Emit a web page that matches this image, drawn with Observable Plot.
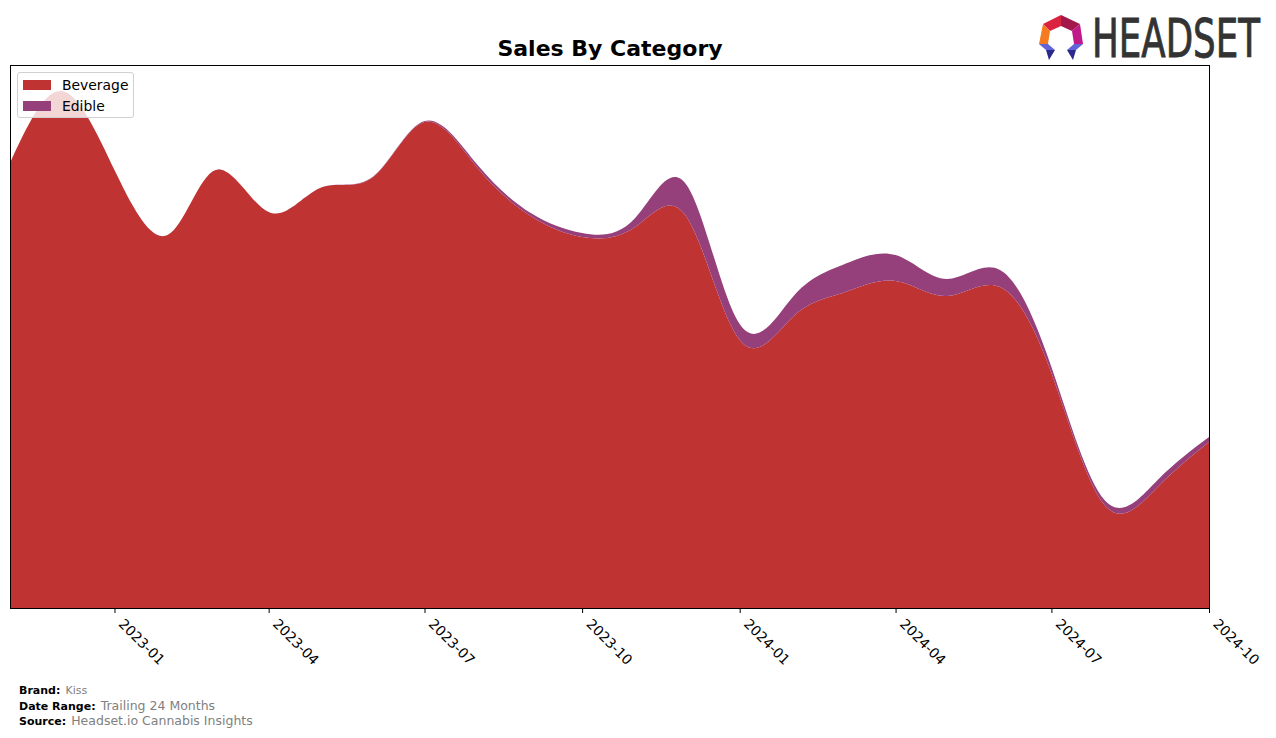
<!DOCTYPE html>
<html>
<head>
<meta charset="utf-8">
<script src="https://cdn.jsdelivr.net/npm/d3@7"></script>
<script src="https://cdn.jsdelivr.net/npm/@observablehq/plot@0.6"></script>
<style>
  html, body { margin: 0; padding: 0; background: #fff; }
  #wrap { position: relative; width: 1276px; height: 738px; overflow: hidden; font-family: "DejaVu Sans", sans-serif; }
  #chart { position: absolute; left: 0; top: 0; }
  #title { position: absolute; left: 0; width: 1220px; top: 38px; line-height: 22px; text-align: center; font-weight: bold; font-size: 22px; color: #000; }
  #legend { position: absolute; left: 17px; top: 72px; width: 115px; height: 44px; border: 1px solid #d0d0d0; border-radius: 3px; background: rgba(255,255,255,0.8); font-size: 13.9px; }
  .li { position: absolute; left: 5px; height: 16px; line-height: 16px; white-space: nowrap; }
  .sw { display: inline-block; width: 28px; height: 10px; vertical-align: middle; margin-right: 11px; position: relative; top: -1px; }
  .foot { position: absolute; left: 19px; white-space: nowrap; color: #000; }
  .foot b { font-size: 11px; }
  .foot span { color: #808080; }
  #logo { position: absolute; left: 1030px; top: 8px; overflow: visible; }
</style>
</head>
<body>
<div id="wrap">
  <div id="chart"></div>
  <div id="title">Sales By Category</div>
  <div id="legend"></div>
  <div class="foot" style="top:679px;"><b>Brand:</b> <span style="font-size:11px;">Kiss</span></div>
  <div class="foot" style="top:695px;"><b>Date Range:</b> <span style="font-size:12.5px;">Trailing 24 Months</span></div>
  <div class="foot" style="top:710px;"><b>Source:</b> <span style="font-size:12.5px;">Headset.io Cannabis Insights</span></div>
  <svg id="logo" width="240" height="60" viewBox="1030 8 240 60">
    <polygon points="1043,24 1061,15 1061,26 1050,31" fill="#d9233f"/>
    <polygon points="1061,15 1080,24 1072,31 1061,26" fill="#a3174b"/>
    <polygon points="1080,24 1083,44 1074,44 1072,31" fill="#c0198a"/>
    <polygon points="1043,24 1050,31 1048,44 1039,44" fill="#f47b20"/>
    <polygon points="1039,44 1048,44 1055,50 1046,50" fill="#6163d6"/>
    <polygon points="1046,50 1055,50 1049,60" fill="#2b2a8c"/>
    <polygon points="1083,44 1074,44 1067,50 1076,50" fill="#6163d6"/>
    <polygon points="1076,50 1067,50 1073,60" fill="#2b2a8c"/>
    <text id="logotext" transform="translate(1092,57) scale(1,1.2)" font-family="'Liberation Sans Narrow','DejaVu Sans Condensed',sans-serif" font-size="44" fill="#333" stroke="#333" stroke-width="0.7">HEADSET</text>
  </svg>
</div>
<script>
const months = ["2022-11-01","2022-12-01","2023-01-01","2023-02-01","2023-03-01","2023-04-01","2023-05-01","2023-06-01","2023-07-01","2023-08-01","2023-09-01","2023-10-01","2023-11-01","2023-12-01","2024-01-01","2024-02-01","2024-03-01","2024-04-01","2024-05-01","2024-06-01","2024-07-01","2024-08-01","2024-09-01","2024-10-01"];
const beverage = [445,517,438,373,438,396,420,431,486,440,392,371,381,391,268,291,315,327,312,321,235,103,121,166];
const edible   = [0,0,0,0,0,0,0,0.5,1,3,3,4,9,32,16,20,28,26,17,17,6,5,7,5];
const categories = ["Beverage","Edible"];
const colors = ["#c03333","#95407b"];
const tickDates = ["2023-01-01","2023-04-01","2023-07-01","2023-10-01","2024-01-01","2024-04-01","2024-07-01","2024-10-01"];

const rows = [];
months.forEach((m, i) => {
  rows.push({date: new Date(m), category: "Beverage", value: beverage[i]});
  rows.push({date: new Date(m), category: "Edible", value: edible[i]});
});
const tickValues = tickDates.map(d => new Date(d));

const chart = Plot.plot({
  width: 1276,
  height: 738,
  marginLeft: 10,
  marginRight: 67,
  marginTop: 65,
  marginBottom: 130,
  style: {fontFamily: "'DejaVu Sans', sans-serif", fontSize: "13.9px", color: "#000", background: "transparent"},
  x: {type: "utc", domain: [new Date("2022-11-01"), new Date("2024-10-01")], label: null, axis: null},
  y: {domain: [0, 543], axis: null},
  color: {domain: categories, range: colors},
  marks: [
    Plot.areaY(rows, {x: "date", y: "value", fill: "category", curve: "natural", order: categories}),
    Plot.frame({stroke: "#000", strokeWidth: 1}),
    Plot.axisX({ticks: tickValues, tickFormat: () => "", tickSize: 5, label: null}),
    Plot.axisX({ticks: tickValues, tickFormat: d3.utcFormat("%Y-%m"), tickSize: 0, tickPadding: 13, tickRotate: 45, dx: 6, label: null, fontSize: 13.9})
  ]
});
document.getElementById("chart").appendChild(chart);

const legend = document.getElementById("legend");
categories.forEach((c, i) => {
  const d = document.createElement("div");
  d.className = "li";
  d.style.top = (4 + i * 21) + "px";
  d.innerHTML = `<span class="sw" style="background:${colors[i]}"></span>${c}`;
  legend.appendChild(d);
});

// fit logo wordmark to its width by scaling (keeps the real bbox inside the page)
const lt = document.getElementById("logotext");
const w = lt.getComputedTextLength();
if (w > 0) lt.setAttribute("transform", `translate(1092,57) scale(${168 / w},1.2)`);
</script>
</body>
</html>
